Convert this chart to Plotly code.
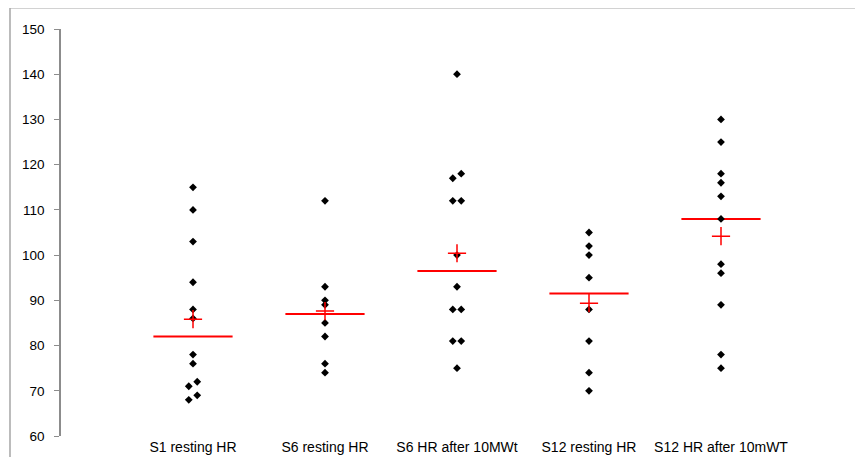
import numpy as np
import plotly.graph_objects as go

categories = ["S1 resting HR", "S6 resting HR", "S6 HR after 10MWt",
              "S12 resting HR", "S12 HR after 10mWT"]

s1_rest = [115, 110, 103, 94, 88, 86, 78, 76, 72, 71, 69, 68]
s6_rest = [112, 93, 90, 89, 85, 82, 76, 74]
s6_after = [140, 118, 117, 112, 112, 100, 93, 88, 88, 81, 81, 75]
s12_rest = [105, 102, 100, 95, 88, 81, 74, 70]
s12_after = [130, 125, 118, 116, 113, 108, 98, 96, 89, 78, 75]

groups = [s1_rest, s6_rest, s6_after, s12_rest, s12_after]

# side-by-side placement for overlapping dots (-1 left, 0 centre, +1 right)
dot_side = [
    [0, 0, 0, 0, 0, 0, 0, 0, 1, -1, 1, -1],
    [0, 0, 0, 0, 0, 0, 0, 0],
    [0, 1, -1, -1, 1, 0, 0, -1, 1, -1, 1, 0],
    [0, 0, 0, 0, 0, 0, 0, 0],
    [0, 0, 0, 0, 0, 0, 0, 0, 0, 0, 0],
]
SHIFT = 0.032
HALF = 0.3

y_ticks = [60, 70, 80, 90, 100, 110, 120, 130, 140, 150]

fig = go.Figure()

# median lines
lx, ly = [], []
for i, g in enumerate(groups, start=1):
    m = float(np.median(g))
    lx += [i - HALF, i + HALF, None]
    ly += [m, m, None]
fig.add_trace(go.Scatter(x=lx, y=ly, mode="lines",
                         line=dict(color="#ff0000", width=2),
                         hoverinfo="skip", showlegend=False))

# individual points
px, py = [], []
for i, (g, s) in enumerate(zip(groups, dot_side), start=1):
    for v, d in zip(g, s):
        px.append(i + d * SHIFT)
        py.append(v)
fig.add_trace(go.Scatter(x=px, y=py, mode="markers",
                         marker=dict(symbol="diamond", size=6, color="black"),
                         showlegend=False))

# means
mx = list(range(1, len(groups) + 1))
my = [float(np.mean(g)) for g in groups]
fig.add_trace(go.Scatter(x=mx, y=my, mode="markers",
                         marker=dict(symbol="cross-thin", size=13,
                                     line=dict(color="#ff0000", width=1.5)),
                         showlegend=False))

fig.update_layout(
    width=855, height=457,
    margin=dict(l=53, r=10, t=21, b=21),
    paper_bgcolor="white", plot_bgcolor="white",
    font=dict(family="Liberation Sans, Arial, sans-serif", color="black"),
    xaxis=dict(range=[0, 6], tickmode="array", tickvals=mx, ticktext=categories,
               showline=False, showgrid=False, zeroline=False, ticks="",
               tickfont=dict(size=14), ticklabelstandoff=1),
    yaxis=dict(range=[60, 150], tickvals=y_ticks, showgrid=False, zeroline=False,
               showline=True, linecolor="#8c8c8c", linewidth=1.5,
               ticks="outside", ticklen=5, tickcolor="#8c8c8c", tickwidth=1,
               tickfont=dict(size=13.5), ticklabelstandoff=7),
    shapes=[dict(type="rect", xref="paper", yref="paper",
                 x0=-0.0644, x1=1.0114, y0=-0.2, y1=1.052,
                 line=dict(color="#a6a6a6", width=1.5), layer="below")],
)

fig.write_html("out.html")
